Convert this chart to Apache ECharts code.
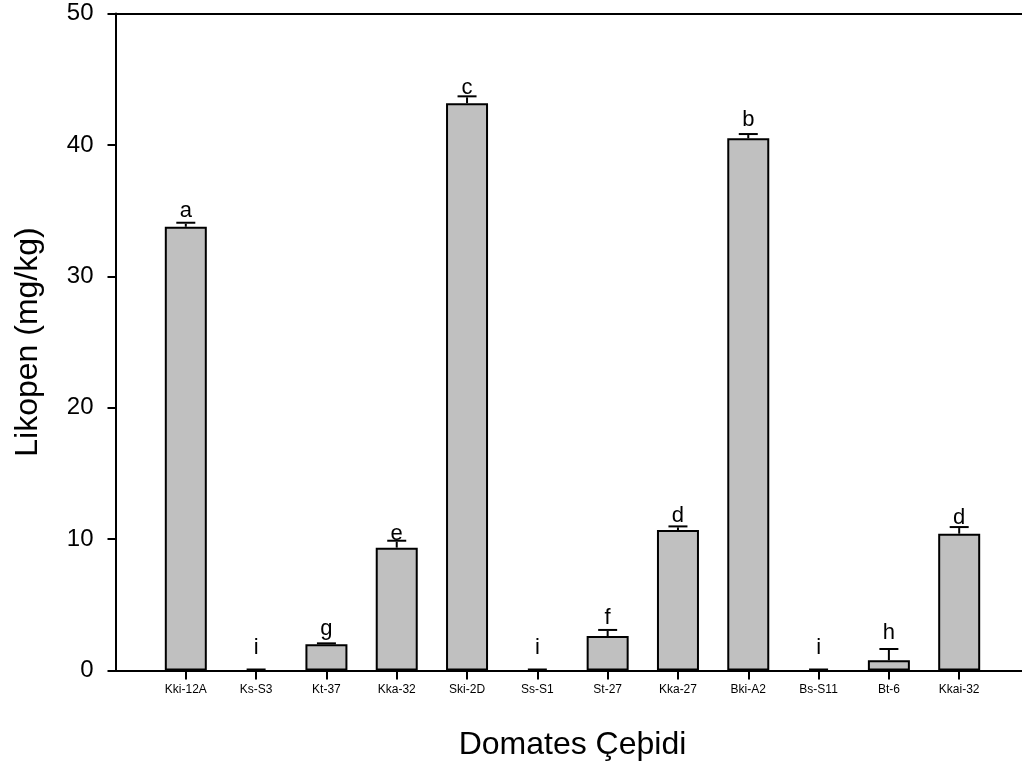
<!DOCTYPE html>
<html>
<head>
<meta charset="utf-8">
<script src="https://cdn.jsdelivr.net/npm/echarts@6/dist/echarts.min.js"></script>
<style>
  html, body { margin: 0; padding: 0; background: #fff; }
  #chart { width: 1022px; height: 765px; }
</style>
</head>
<body>
<div id="chart"></div>
<script>
// Tomato varieties and their lycopene content (mg/kg), mean + standard error
const varieties = ['Kki-12A', 'Ks-S3', 'Kt-37', 'Kka-32', 'Ski-2D', 'Ss-S1',
                   'St-27', 'Kka-27', 'Bki-A2', 'Bs-S11', 'Bt-6', 'Kkai-32'];
const lycopene = [33.77, 0, 1.99, 9.35, 43.17, 0, 2.62, 10.69, 40.5, 0, 0.78, 10.41];
const stdError = [0.23, 0, 0, 0.45, 0.45, 0, 0.39, 0.2, 0.25, 0, 0.78, 0.43];
const groups = ['a', 'i', 'g', 'e', 'c', 'i', 'f', 'd', 'b', 'i', 'h', 'd'];
const yTicks = [0, 10, 20, 30, 40, 50];

// pixel gap between each error-bar cap and the baseline of its letter
const letterGap = [7.7, 17, 10, 2.4, 4, 17, 7.3, 6, 10, 17, 11.5, 5];

const FONT = 'Liberation Sans, Arial, Helvetica, sans-serif';
const LETTER_SIZE = 22;
const LETTER_DESCENT = 5.5;

// Category axis with an empty slot at each end so the varieties sit on
// whole steps away from the value axis; the plot runs past the right edge.
const axisCats = [''].concat(varieties, ['']);
const pad = (arr) => [null].concat(arr, [null]);

// zero-height bars get no outline, only their error cap shows
const barData = pad(lycopene).map(v =>
  v === 0 ? { value: v, itemStyle: { borderWidth: 0 } } : v);

const chart = echarts.init(document.getElementById('chart'), null, { renderer: 'canvas' });

const errorData = varieties.map((v, i) => [i + 1, lycopene[i], stdError[i]]);

chart.setOption({
  animation: false,
  backgroundColor: '#ffffff',
  grid: {
    left: 115.5, top: 13.5, bottom: 94.5, right: -7.5,
    containLabel: false, outerBoundsMode: 'none'
  },
  xAxis: [{
    type: 'category',
    data: axisCats,
    boundaryGap: false,
    name: 'Domates Çeþidi',
    nameLocation: 'middle',
    nameGap: 59,
    nameTextStyle: { fontFamily: FONT, fontSize: 32, color: '#000' },
    axisLine: { show: true, lineStyle: { color: '#000', width: 2 } },
    axisTick: {
      show: true, length: 9, inside: false,
      interval: (idx, val) => val !== '',
      lineStyle: { color: '#000', width: 2 }
    },
    axisLabel: {
      interval: 0, margin: 13,
      fontFamily: FONT, fontSize: 12, color: '#000'
    },
    splitLine: { show: false }
  }, {
    // frame line along the top of the plot
    type: 'value', position: 'top', min: 0, max: 1,
    axisLine: { show: true, onZero: false, lineStyle: { color: '#000', width: 2 } },
    axisTick: { show: false }, axisLabel: { show: false }, splitLine: { show: false }
  }],
  yAxis: {
    type: 'value',
    min: yTicks[0], max: yTicks[yTicks.length - 1], interval: 10,
    name: 'Likopen (mg/kg)',
    nameLocation: 'middle',
    nameGap: 71,
    nameTextStyle: { fontFamily: FONT, fontSize: 32, color: '#000' },
    axisLine: { show: true, lineStyle: { color: '#000', width: 2 } },
    axisTick: { show: true, length: 8, inside: false, lineStyle: { color: '#000', width: 2 } },
    axisLabel: { margin: 22, fontFamily: FONT, fontSize: 24, color: '#000' },
    splitLine: { show: false }
  },
  series: [{
    type: 'bar',
    xAxisIndex: 0,
    data: barData,
    barWidth: 42,
    itemStyle: { color: '#c0c0c0', borderColor: '#000', borderWidth: 2 },
    z: 2
  }, {
    // one-sided error bars with the group letters above them
    type: 'custom',
    xAxisIndex: 0,
    data: errorData,
    z: 3,
    renderItem: function (params, api) {
      const i = params.dataIndex;
      const idx = api.value(0);
      const val = api.value(1);
      const err = api.value(2);
      const base = api.coord([idx, val]);
      const top = api.coord([idx, val + err]);
      const capHalf = 9.5;
      const stroke = { stroke: '#000', lineWidth: 2 };
      return {
        type: 'group',
        children: [{
          type: 'line',
          shape: { x1: base[0], y1: base[1], x2: top[0], y2: top[1] },
          style: stroke
        }, {
          type: 'line',
          shape: { x1: top[0] - capHalf, y1: top[1] - 1, x2: top[0] + capHalf, y2: top[1] - 1 },
          style: stroke
        }, {
          type: 'text',
          x: top[0], y: top[1] - letterGap[i] + LETTER_DESCENT,
          style: {
            text: groups[i], fill: '#000',
            font: LETTER_SIZE + 'px ' + FONT,
            align: 'center', verticalAlign: 'bottom'
          }
        }]
      };
    }
  }]
});
</script>
</body>
</html>
